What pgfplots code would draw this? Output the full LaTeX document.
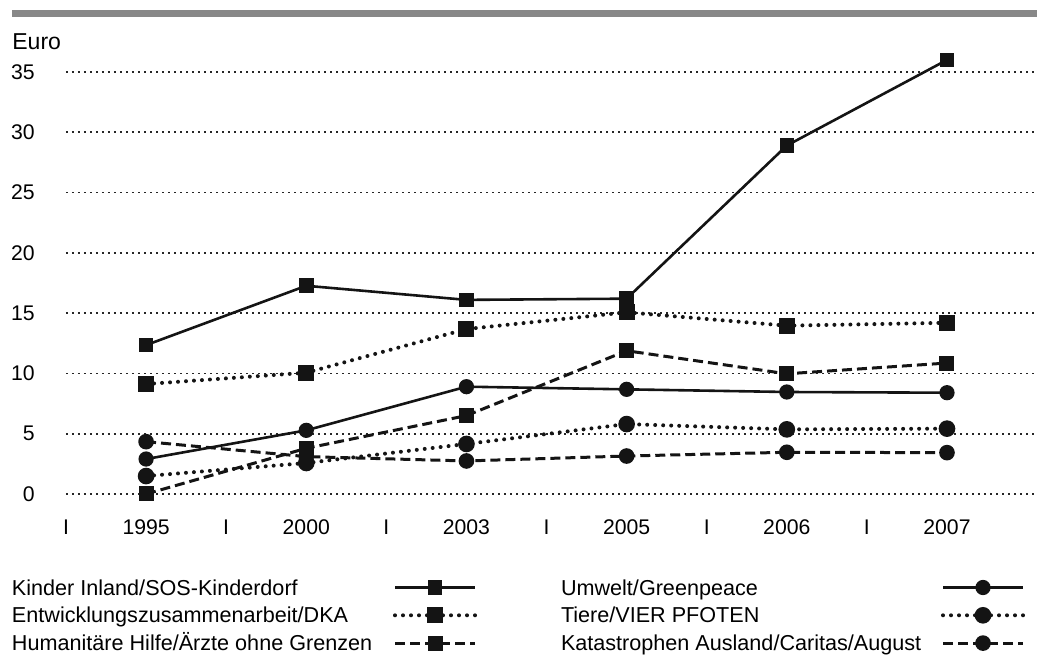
\documentclass[border=0pt]{standalone}
\usepackage{fontspec}
\setmainfont{Liberation Sans}
\usepackage{pgfplots}
\pgfplotsset{compat=1.18}
\definecolor{barg}{RGB}{136,136,136}
\definecolor{ink}{RGB}{20,20,20}
\tikzset{
  dotline/.style={ink, line width=2pt, line cap=round, dash pattern=on 0pt off 4pt},
  dashline/.style={ink, line width=1.5pt, dash pattern=on 5pt off 2.5pt},
  solidline/.style={ink, line width=1.3pt}
}
\begin{document}
\begin{tikzpicture}
\begin{axis}[
  name=ax,
  scale only axis,
  width=485.5pt, height=211pt,
  xmin=-0.5, xmax=5.562,
  ymin=0, ymax=35,
  clip=false,
  axis line style={draw=none},
  major tick length=0pt,
  xtick={0,1,2,3,4,5},
  xticklabels={1995,2000,2003,2005,2006,2007},
  extra x ticks={-0.5,0.5,1.5,2.5,3.5,4.5},
  extra x tick labels={I,I,I,I,I,I},
  extra x tick style={major tick length=0pt},
  ytick={0,5,...,35},
  ymajorgrids,
  major grid style={draw=black!85, line width=0.9pt, dash pattern=on 0.9pt off 2.1pt},
  xticklabel style={anchor=base, yshift=-20.2pt, inner sep=0pt},
  yticklabel style={anchor=east, inner sep=0pt, xshift=-15.5pt},
  tick label style={font=\fontsize{10.6pt}{12pt}\selectfont},
  /pgf/number format/assume math mode=true,
  legend columns=2,
  legend plot pos=right,
  legend cell align=left,
  legend style={at={(0,0)}, anchor=north west, xshift=-27pt, yshift=-43pt,
    draw=none, fill=none, inner sep=0pt, outer sep=0pt, row sep=6.4pt, column sep=0pt,
    font=\fontsize{10.8pt}{12pt}\selectfont,
    nodes={inner sep=0pt, outer sep=0pt, text height=7.5pt, text depth=0pt},
    /tikz/every even column/.append style={column sep=42pt}},
  legend image code/.code={\draw[mark repeat=2, mark phase=2] plot coordinates {(0pt,0pt) (20pt,0pt) (40pt,0pt)};},
]
\addplot[solidline, mark=square*, mark size=3pt, mark options={solid}] coordinates {(0,12.35)(1,17.27)(2,16.1)(3,16.2)(4,28.9)(5,36.0)};
\addlegendentry{\makebox[190.5pt][l]{Kinder Inland/SOS-Kinderdorf}}
\addplot[solidline, mark=*, mark size=3.15pt, mark options={solid}] coordinates {(0,2.9)(1,5.28)(2,8.9)(3,8.68)(4,8.46)(5,8.4)};
\addlegendentry{\makebox[190pt][l]{Umwelt/Greenpeace}}
\addplot[dotline, mark=square*, mark size=3pt, mark options={solid}] coordinates {(0,9.12)(1,10.06)(2,13.68)(3,15.07)(4,13.96)(5,14.2)};
\addlegendentry{\makebox[190.5pt][l]{Entwicklungszusammenarbeit/DKA}}
\addplot[dotline, mark=*, mark size=3.15pt, mark options={solid}] coordinates {(0,1.49)(1,2.57)(2,4.15)(3,5.8)(4,5.36)(5,5.42)};
\addlegendentry{\makebox[190pt][l]{Tiere/VIER PFOTEN}}
\addplot[dashline, mark=square*, mark size=3pt, mark options={solid}] coordinates {(0,0)(1,3.79)(2,6.5)(3,11.88)(4,9.97)(5,10.86)};
\addlegendentry{\makebox[190.5pt][l]{Humanitäre Hilfe/Ärzte ohne Grenzen}}
\addplot[dashline, mark=*, mark size=3.15pt, mark options={solid}] coordinates {(0,4.34)(1,3.1)(2,2.74)(3,3.15)(4,3.46)(5,3.43)};
\addlegendentry{\makebox[190pt][l]{Katastrophen Ausland/Caritas/August}}
\node[anchor=base west, inner sep=0pt, font=\fontsize{11.5pt}{13pt}\selectfont] at ([xshift=-27pt, yshift=222.4pt]rel axis cs:0,0) {Euro};
\fill[barg] ([xshift=-27pt, yshift=238.6pt]rel axis cs:0,0) rectangle ([yshift=242pt]rel axis cs:1,0);
\end{axis}
\pgfresetboundingbox
\path[use as bounding box] ([shift={(-33pt,-81.5pt)}]ax.south west) rectangle ([shift={(0pt,247pt)}]ax.south east);
\end{tikzpicture}
\end{document}
